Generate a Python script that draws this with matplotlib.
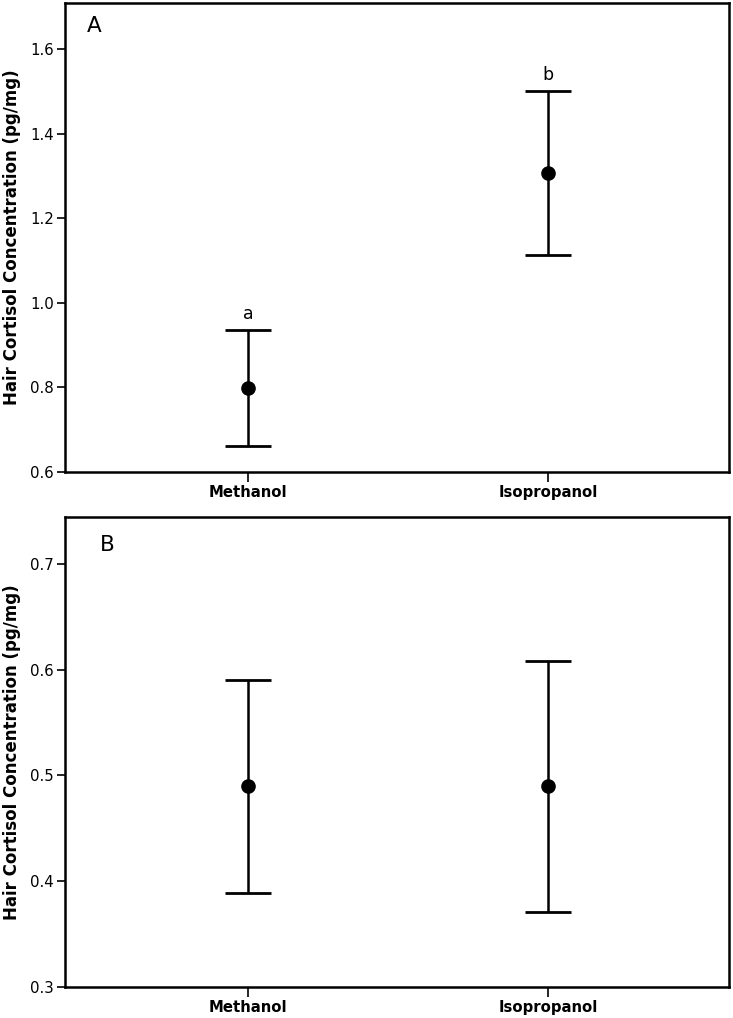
import matplotlib
matplotlib.use("Agg")
import matplotlib.pyplot as plt

categories = ["Methanol", "Isopropanol"]

# Panel A
a_mean = [0.798, 1.307]
a_lower = [0.662, 1.114]
a_upper = [0.936, 1.500]
a_letters = ["a", "b"]
a_ticks = [0.6, 0.8, 1.0, 1.2, 1.4, 1.6]

# Panel B
b_mean = [0.490, 0.490]
b_lower = [0.389, 0.371]
b_upper = [0.590, 0.608]
b_ticks = [0.3, 0.4, 0.5, 0.6, 0.7]

plt.rcParams['font.family'] = ['DejaVu Sans']

fig = plt.figure(figsize=(7.33, 10.18), dpi=100)
W, H = 733, 1018

def make_ax(top_px, bot_px):
    left_px, right_px = 65, 729
    return fig.add_axes([left_px / W, 1 - bot_px / H,
                         (right_px - left_px) / W, (bot_px - top_px) / H])

axA = make_ax(3, 472)
axB = make_ax(517, 987)

def draw(ax, mean, lower, upper, ticks, ylim, panel, ppos, letters=None):
    x = list(range(len(categories)))
    yerr = [[m - l for m, l in zip(mean, lower)], [u - m for m, u in zip(mean, upper)]]
    ax.errorbar(x, mean, yerr=yerr, fmt='o', color='black', ms=9.5,
                elinewidth=1.8, capsize=16.5, capthick=2.0, ecolor='black')
    ax.set_xlim(-0.61, 1.603)
    ax.set_ylim(*ylim)
    ax.set_xticks(x)
    ax.set_xticklabels(categories, fontweight='bold', fontsize=10.7)
    ax.set_yticks(ticks)
    ax.set_yticklabels([f"{t:.1f}" for t in ticks], fontsize=10.8)
    ax.tick_params(axis='x', length=7, width=1.2, direction='out', pad=2.5)
    ax.tick_params(axis='y', length=6, width=1.2, direction='out', pad=2)
    for s in ax.spines.values():
        s.set_linewidth(1.8)
    ax.set_ylabel("Hair Cortisol Concentration (pg/mg)", fontweight='bold', fontsize=12)
    ax.text(ppos[0], ppos[1], panel, transform=ax.transAxes, fontsize=15.5,
            ha='left', va='center')
    if letters:
        for xi, u, lt in zip(x, upper, letters):
            ax.annotate(lt, (xi, u), xytext=(0, 5), textcoords='offset points',
                        ha='center', va='bottom', fontsize=12.5)

draw(axA, a_mean, a_lower, a_upper, a_ticks, (0.6, 1.709), "A", (0.033, 0.951), a_letters)
draw(axB, b_mean, b_lower, b_upper, b_ticks, (0.3, 0.7444), "B", (0.053, 0.94))

axA.yaxis.set_label_coords(-0.067, 0.5)
axB.yaxis.set_label_coords(-0.067, 0.5)

fig.savefig("out.png", dpi=100)
